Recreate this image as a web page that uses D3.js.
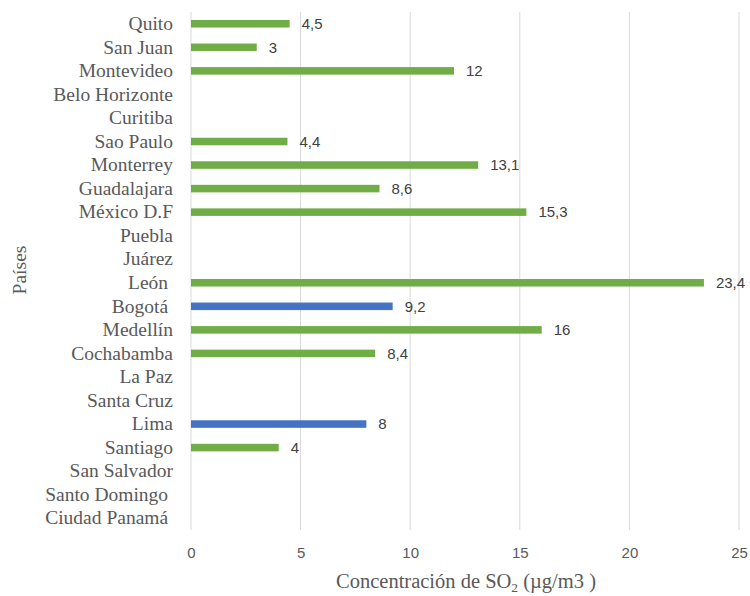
<!DOCTYPE html>
<html>
<head>
<meta charset="utf-8">
<script src="https://cdn.jsdelivr.net/npm/d3@7"></script>
<style>
  html, body { margin: 0; padding: 0; background: #fff; }
  svg { display: block; }
  text { white-space: pre; }
</style>
</head>
<body>
<svg id="chart" width="750" height="596"></svg>
<script>
// Ciudades, de arriba hacia abajo
const cities = ["Quito", "San Juan", "Montevideo", "Belo Horizonte", "Curitiba", "Sao Paulo",
  "Monterrey", "Guadalajara", "México D.F", "Puebla", "Juárez", "León ", "Bogotá ", "Medellín",
  "Cochabamba", "La Paz", "Santa Cruz", "Lima", "Santiago", "San Salvador", "Santo Domingo ",
  "Ciudad Panamá "];
// Concentración de SO2 (µg/m3); null = sin dato
const so2Values = [4.5, 3, 12, null, null, 4.4, 13.1, 8.6, 15.3, null, null, 23.4, 9.2, 16,
  8.4, null, null, 8, 4, null, null, null];
const valueLabels = ["4,5", "3", "12", "", "", "4,4", "13,1", "8,6", "15,3", "", "", "23,4",
  "9,2", "16", "8,4", "", "", "8", "4", "", "", ""];
// Serie resaltada (Colombia / Perú)
const highlighted = ["Bogotá ", "Lima"];
const xTicks = [0, 5, 10, 15, 20, 25];

const svg = d3.select("#chart");
const margin = { left: 191, right: 11, top: 12, bottom: 66 };
const W = 750, H = 596;

const x = d3.scaleLinear().domain([0, 25]).range([margin.left, W - margin.right]);
const y = d3.scaleBand().domain(cities).range([margin.top, H - margin.bottom]).paddingInner(0.68).paddingOuter(0.34);
const yc = d3.scaleBand().domain(cities).range([margin.top, H - margin.bottom]);

const grey = "#595959";
const serif = "'Liberation Serif', 'Times New Roman', serif";
const sans = "'Liberation Sans', Arial, sans-serif";

// Líneas de cuadrícula verticales
svg.append("g")
  .selectAll("line")
  .data(xTicks)
  .join("line")
  .attr("x1", d => x(d)).attr("x2", d => x(d))
  .attr("y1", margin.top).attr("y2", H - margin.bottom)
  .attr("stroke", "#d9d9d9").attr("stroke-width", 1);

// Eje X
const xAxis = svg.append("g")
  .attr("transform", `translate(0,${H - margin.bottom})`)
  .call(d3.axisBottom(x).tickValues(xTicks).tickSize(0).tickPadding(17));
xAxis.select(".domain").remove();
xAxis.selectAll("text")
  .attr("font-family", sans)
  .attr("font-size", 15).attr("fill", grey);

// Eje Y (etiquetas de ciudades)
const yAxis = svg.append("g")
  .attr("transform", `translate(${margin.left},0)`)
  .call(d3.axisLeft(yc).tickSize(0).tickPadding(18));
yAxis.select(".domain").remove();
yAxis.selectAll("text")
  .attr("font-family", serif)
  .attr("font-size", 19.5).attr("fill", grey);

const data = cities.map((c, i) => ({ city: c, v: so2Values[i], label: valueLabels[i] }))
  .filter(d => d.v !== null);

// Barras
svg.append("g")
  .selectAll("rect")
  .data(data)
  .join("rect")
  .attr("x", x(0))
  .attr("y", d => y(d.city))
  .attr("width", d => x(d.v) - x(0))
  .attr("height", y.bandwidth())
  .attr("fill", d => highlighted.includes(d.city) ? "#4472C4" : "#70AD47");

// Etiquetas de valor
svg.append("g")
  .selectAll("text")
  .data(data)
  .join("text")
  .attr("x", d => x(d.v) + 12)
  .attr("y", d => yc(d.city) + yc.bandwidth() / 2)
  .attr("dy", "0.35em")
  .attr("font-family", sans)
  .attr("font-size", 15)
  .attr("fill", "#404040")
  .text(d => d.label);

// Título del eje X
const xt = svg.append("text")
  .attr("x", (x(0) + x(25)) / 2 + 1)
  .attr("y", 588)
  .attr("text-anchor", "middle")
  .attr("font-family", serif)
  .attr("font-size", 20.5)
  .attr("fill", grey);
xt.append("tspan").text("Concentración de SO");
xt.append("tspan").attr("font-size", 13.5).attr("dy", 4).text("2");
xt.append("tspan").attr("dy", -4).text(" (µg/m3 )");

// Título del eje Y
svg.append("text")
  .attr("transform", `translate(26,270) rotate(-90)`)
  .attr("text-anchor", "middle")
  .attr("font-family", serif)
  .attr("font-size", 19.5)
  .attr("fill", grey)
  .text("Países");
</script>
</body>
</html>
